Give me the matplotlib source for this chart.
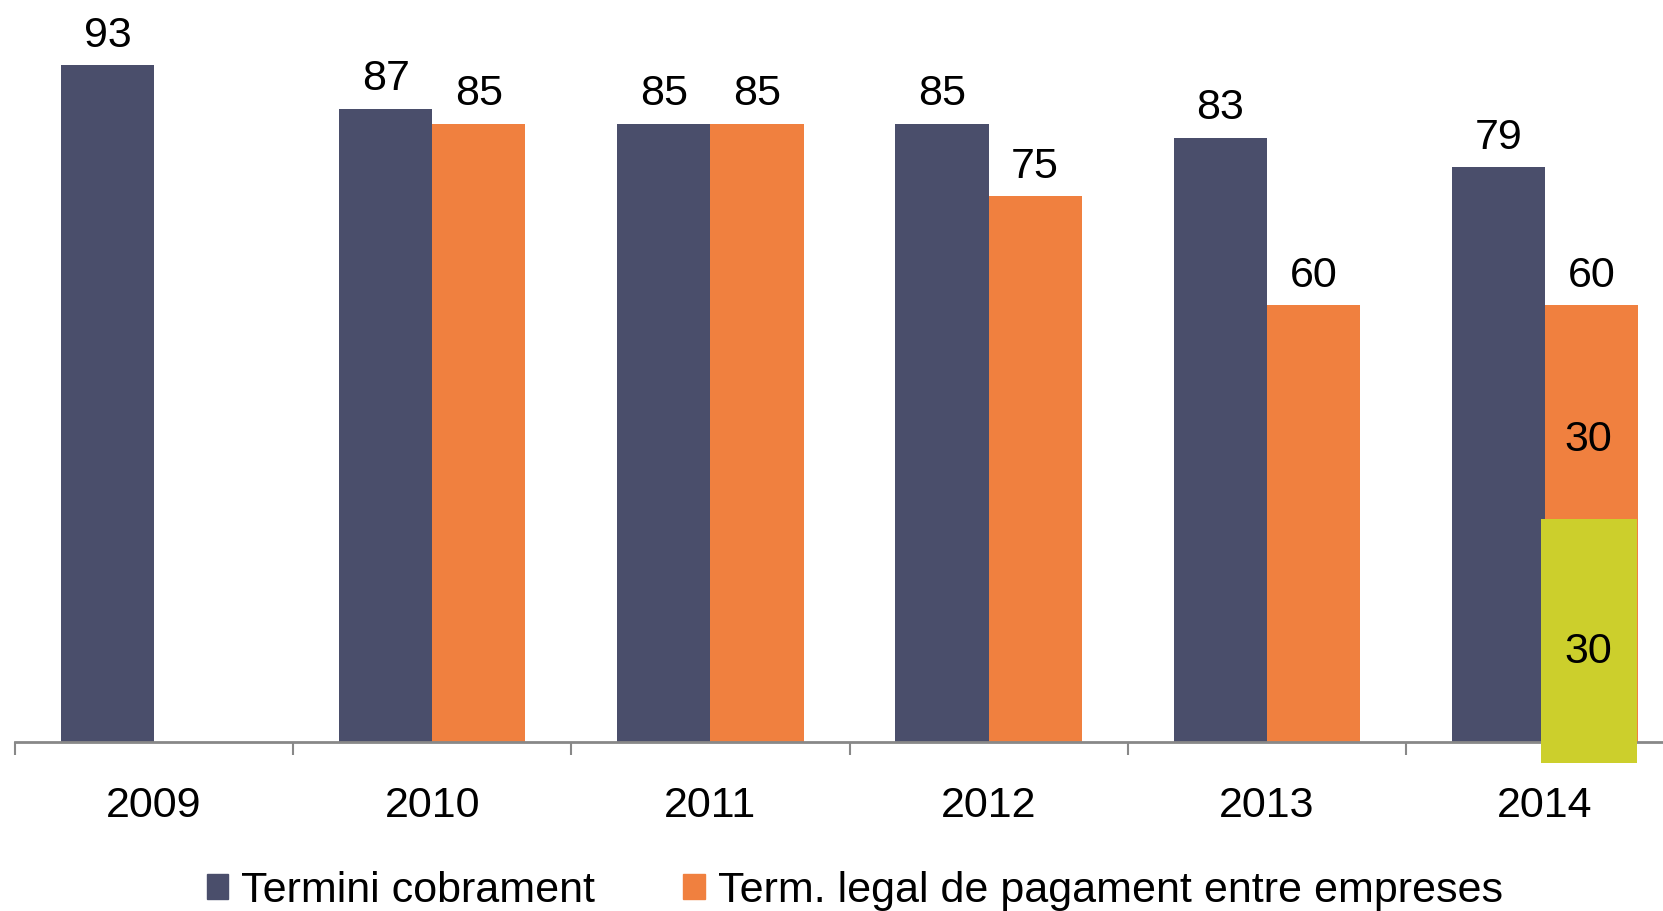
import numpy as np
import matplotlib.pyplot as plt
from matplotlib.patches import Patch

plt.rcParams['font.family'] = ['Liberation Sans', 'DejaVu Sans']

years = ['2009', '2010', '2011', '2012', '2013', '2014']
cobrament = [93, 87, 85, 85, 83, 79]
legal = [np.nan, 85, 85, 75, 60, 60]
split_2014 = [30, 30]   # new 30-day part (green) and rest of the 60

dark = '#4a4e6b'
orange = '#f0803f'
green = '#cccf2c'

fig = plt.figure(figsize=(16.63, 9.11), dpi=100)
ax = fig.add_axes([15 / 1663, 1 - 741.7 / 911, 1669 / 1663, 741.7 / 911])

x = np.arange(len(years))
w = 0.335
ax.bar(x - w / 2, cobrament, w, color=dark)
ax.bar(x + w / 2, legal, w, color=orange)

# green box overlaid on the 2014 legal bar
pad = 2.9
ax.bar(x[-1] + w / 2 - 0.008, split_2014[0] + pad + 0.6, 0.345, bottom=-pad,
       color=green, clip_on=False, zorder=3)

fs = 31
for xi, v in zip(x, cobrament):
    ax.annotate(str(v), (xi - w / 2, v), xytext=(0, 7), textcoords='offset points',
                ha='center', va='bottom', fontsize=fs)
for xi, v in zip(x, legal):
    if not np.isnan(v):
        ax.annotate(str(int(v)), (xi + w / 2, v), xytext=(0, 7), textcoords='offset points',
                    ha='center', va='bottom', fontsize=fs)

ax.text(x[-1] + w / 2 - 0.01, split_2014[0] + split_2014[1] / 2 - 3.5, str(split_2014[1]),
        ha='center', va='center', fontsize=fs, zorder=4)
ax.text(x[-1] + w / 2 - 0.01, split_2014[0] / 2 - 2.6, str(split_2014[0]),
        ha='center', va='center', fontsize=fs, zorder=4)

ax.set_xlim(-0.5, len(years) - 0.5)
ax.set_ylim(0, 102)
for s in ['top', 'right', 'left']:
    ax.spines[s].set_visible(False)
ax.spines['bottom'].set_color('#888888')
ax.spines['bottom'].set_linewidth(2)
ax.set_yticks([])
ax.set_xticks(x)
ax.set_xticklabels(years, fontsize=fs)
ax.tick_params(axis='x', which='major', length=0, pad=32)
ax.set_xticks(np.arange(-0.5, len(years)), minor=True)
ax.tick_params(axis='x', which='minor', length=9, width=1.5, color='#888888', direction='out')

handles = [Patch(color=dark, label='Termini cobrament'),
           Patch(color=orange, label='Term. legal de pagament entre empreses')]
fig.legend(handles=handles, loc='center', bbox_to_anchor=(0.514, 1 - 891 / 911),
           ncol=2, frameon=False, fontsize=fs, handlelength=0.5, handleheight=0.5,
           handletextpad=0.3, columnspacing=2.05, borderpad=0, borderaxespad=0)

fig.savefig('out.png', dpi=100)
